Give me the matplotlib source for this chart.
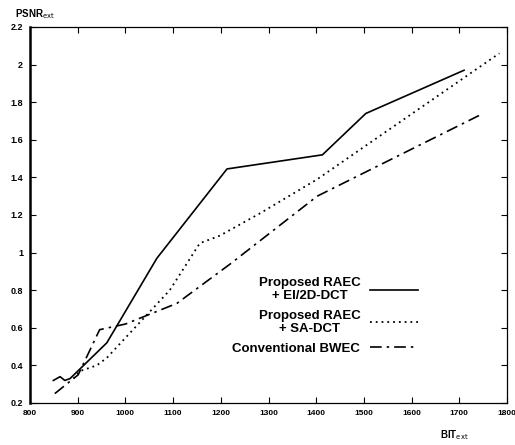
import matplotlib
matplotlib.use("Agg")
import matplotlib.pyplot as plt

plt.rcParams['font.family'] = ['Liberation Sans', 'DejaVu Sans']

# Proposed RAEC + EI/2D-DCT
ei_bits = [849, 863, 873, 884, 961, 1066, 1213, 1413, 1504, 1710]
ei_psnr = [0.32, 0.34, 0.32, 0.33, 0.52, 0.97, 1.445, 1.52, 1.74, 1.97]

# Proposed RAEC + SA-DCT
sa_bits = [891, 905, 940, 961, 1093, 1156, 1198, 1283, 1402, 1784]
sa_psnr = [0.33, 0.37, 0.40, 0.44, 0.80, 1.05, 1.09, 1.21, 1.39, 2.06]

# Conventional BWEC
bw_bits = [852, 901, 946, 1000, 1108, 1220, 1402, 1742]
bw_psnr = [0.25, 0.35, 0.59, 0.62, 0.73, 0.94, 1.30, 1.73]

xticks = [800, 900, 1000, 1100, 1200, 1300, 1400, 1500, 1600, 1700, 1800]
yticks = [0.2, 0.4, 0.6, 0.8, 1, 1.2, 1.4, 1.6, 1.8, 2, 2.2]
ytick_labels = ['0.2', '0.4', '0.6', '0.8', '1', '1.2', '1.4', '1.6', '1.8', '2', '2.2']

fig = plt.figure(figsize=(5.15, 4.45), dpi=100)
ax = fig.add_axes([30 / 515, 42 / 445, 477 / 515, 376 / 445])

ax.plot(ei_bits, ei_psnr, color='black', lw=1.2, ls='-',
        label='Proposed RAEC\n+ EI/2D-DCT')
ax.plot(sa_bits, sa_psnr, color='black', lw=1.3, ls=(0, (1, 2.2)),
        label='Proposed RAEC\n+ SA-DCT')
ax.plot(bw_bits, bw_psnr, color='black', lw=1.2, ls=(0, (7, 3, 1.5, 3)),
        label='Conventional BWEC')

ax.set_xlim(800, 1800)
ax.set_ylim(0.2, 2.2)
ax.set_xticks(xticks)
ax.set_xticklabels([str(v) for v in xticks], fontsize=6, fontweight='bold')
ax.set_yticks(yticks)
ax.set_yticklabels(ytick_labels, fontsize=6.5, fontweight='bold')
ax.tick_params(direction='in', top=True, right=True, length=4, width=0.8,
               pad=5)
ax.spines['left'].set_linewidth(1.8)
for s in ['top', 'right', 'bottom']:
    ax.spines[s].set_linewidth(0.9)

leg = ax.legend(loc='upper right', bbox_to_anchor=(0.828, 0.352),
                frameon=False, markerfirst=False, handlelength=3.7,
                handletextpad=0.7, labelspacing=0.6, borderpad=0,
                prop={'size': 9.5, 'weight': 'bold'})
for t in leg.get_texts():
    t.set_multialignment('center')
    t.set_linespacing(1.1)

fig.text(15 / 515, 1 - 14 / 445, r'PSNR$_{\mathrm{ext}}$', fontsize=7,
         fontweight='bold', va='center', ha='left')
fig.text(440 / 515, 1 - 435 / 445, r'BIT$_{\mathrm{ext}}$', fontsize=7,
         fontweight='bold', va='center', ha='left')

fig.savefig('out.png', dpi=100)
